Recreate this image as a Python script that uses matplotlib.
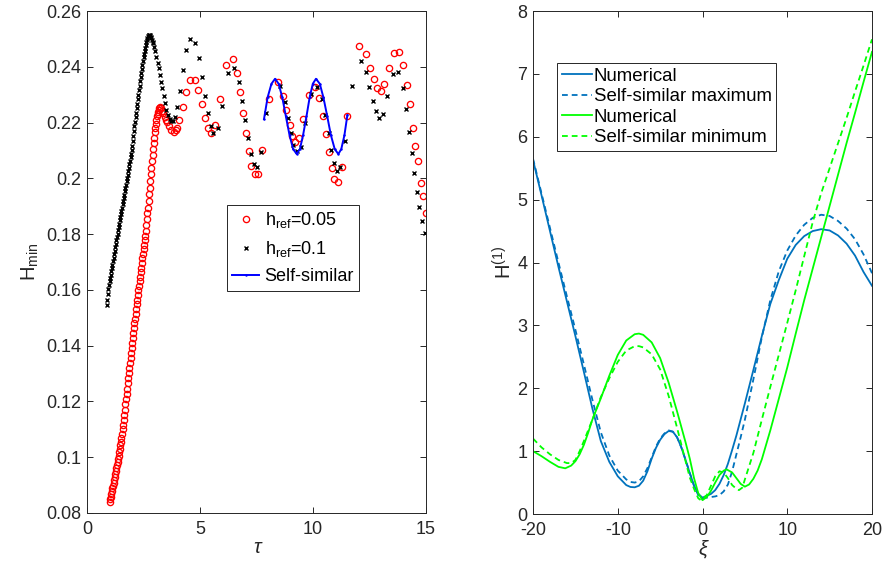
import matplotlib.pyplot as plt

plt.rcParams['font.family'] = ['Liberation Sans', 'DejaVu Sans']
plt.rcParams['mathtext.fontset'] = 'custom'
plt.rcParams['mathtext.rm'] = 'Liberation Sans'
plt.rcParams['mathtext.it'] = 'Liberation Sans:italic'
plt.rcParams['mathtext.sf'] = 'Liberation Sans'

# ---------------- left panel: H_min vs tau ----------------
# h_ref = 0.05 (red circles)
tau_005 = [
    1.000, 1.025, 1.050, 1.075, 1.100, 1.125, 1.150, 1.175, 1.200, 1.225,
    1.250, 1.275, 1.300, 1.325, 1.350, 1.375, 1.400, 1.425, 1.450, 1.475,
    1.500, 1.525, 1.550, 1.575, 1.600, 1.625, 1.650, 1.675, 1.700, 1.725,
    1.750, 1.775, 1.800, 1.825, 1.850, 1.875, 1.900, 1.925, 1.950, 1.975,
    2.000, 2.025, 2.050, 2.075, 2.100, 2.125, 2.150, 2.175, 2.200, 2.225,
    2.250, 2.275, 2.300, 2.325, 2.350, 2.375, 2.400, 2.425, 2.450, 2.475,
    2.500, 2.525, 2.550, 2.575, 2.600, 2.625, 2.650, 2.675, 2.700, 2.725,
    2.750, 2.775, 2.800, 2.825, 2.850, 2.875, 2.900, 2.925, 2.950, 2.975,
    3.000, 3.025, 3.050, 3.075, 3.100, 3.125, 3.150, 3.175, 3.200, 3.225,
    3.27, 3.32, 3.38, 3.45, 3.50, 3.55, 3.63, 3.72, 3.83, 3.92, 4.00, 4.08,
    4.23, 4.38, 4.55, 4.76, 4.92, 5.08, 5.20, 5.35, 5.50, 5.65, 5.87, 6.15,
    6.44, 6.65, 6.79, 6.92, 7.04, 7.15, 7.27, 7.42, 7.57, 7.74, 8.06, 8.45,
    8.66, 8.81, 8.96, 9.07, 9.19, 9.38, 9.57, 9.82, 10.08, 10.28, 10.43,
    10.58, 10.72, 10.84, 10.95, 11.10, 11.28, 11.50, 12.03, 12.35, 12.52,
    12.70, 12.85, 13.00, 13.16, 13.36, 13.60, 13.81, 14.00, 14.15, 14.29,
    14.41, 14.53, 14.63, 14.78, 14.88, 15.00,
]
H_005 = [
    .0840, .0850, .0859, .0869, .0878, .0888, .0898, .0908, .0918, .0929,
    .0939, .0950, .0960, .0971, .0983, .0994, .1005, .1018, .1030, .1043,
    .1055, .1070, .1085, .1100, .1115, .1134, .1153, .1171, .1190, .1209,
    .1228, .1246, .1265, .1283, .1302, .1320, .1338, .1356, .1374, .1392,
    .1410, .1428, .1445, .1463, .1480, .1497, .1514, .1531, .1548, .1565,
    .1582, .1598, .1615, .1631, .1648, .1664, .1680, .1696, .1713, .1729,
    .1745, .1762, .1779, .1795, .1812, .1833, .1854, .1874, .1895, .1919,
    .1943, .1966, .1990, .2014, .2038, .2061, .2085, .2105, .2125, .2145,
    .2165, .2179, .2194, .2208, .2222, .2230, .2238, .2245, .2253, .2256,
    .2252, .2243, .2233, .2219, .2210, .2201, .2188, .2173, .2167, .2172, .2180, .2209,
    .2256, .2311, .2352, .2353, .2316, .2265, .2215, .2179, .2164, .2191, .2284, .2406,
    .2428, .2379, .2310, .2235, .2161, .2099, .2044, .2014, .2017, .2103, .2284, .2344,
    .2296, .2245, .2192, .2152, .2131, .2146, .2212, .2300, .2326, .2287, .2225,
    .2159, .2093, .2038, .1998, .1988, .2039, .2223, .2474, .2445, .2397,
    .2356, .2325, .2314, .2337, .2394, .2450, .2453, .2405, .2335, .2265,
    .2179, .2117, .2063, .1984, .1937, .1877,
]

# h_ref = 0.1 (black crosses)
tau_01 = [
    0.875, 0.900, 0.925, 0.950, 0.975, 1.000, 1.025, 1.050, 1.075, 1.100,
    1.125, 1.150, 1.175, 1.200, 1.225, 1.250, 1.275, 1.300, 1.325, 1.350,
    1.375, 1.400, 1.425, 1.450, 1.475, 1.500, 1.525, 1.550, 1.575, 1.600,
    1.625, 1.650, 1.675, 1.700, 1.725, 1.750, 1.775, 1.800, 1.825, 1.850,
    1.875, 1.900, 1.925, 1.950, 1.975, 2.000, 2.025, 2.050, 2.075, 2.100,
    2.125, 2.150, 2.175, 2.200, 2.225, 2.250, 2.275, 2.300, 2.325, 2.350,
    2.375, 2.400, 2.425, 2.450, 2.475, 2.500, 2.525, 2.550, 2.575, 2.600,
    2.625, 2.650, 2.675, 2.700, 2.725, 2.750, 2.775, 2.800, 2.825, 2.850,
    2.875, 2.900, 2.925, 2.960, 3.00,
    3.04, 3.13, 3.19, 3.22, 3.29, 3.33, 3.39, 3.44, 3.50, 3.57, 3.66, 3.72,
    3.79, 3.89, 4.00, 4.12, 4.25, 4.39, 4.56, 4.77, 4.95, 5.10, 5.23, 5.36,
    5.47, 5.59, 5.80, 5.97, 6.23, 6.49, 6.71, 6.86, 7.00, 7.12, 7.24, 7.39,
    7.54, 7.68, 7.94, 8.55, 8.77, 8.89, 9.01, 9.13, 9.28, 9.46, 9.65, 9.90,
    10.16, 10.39, 10.55, 10.69, 10.78, 10.92, 11.05, 11.21, 11.40, 11.71,
    12.11, 12.35, 12.49, 12.64, 12.77, 12.92, 13.08, 13.27, 13.53, 13.77,
    13.97, 14.10, 14.23, 14.37, 14.47, 14.59, 14.71, 14.82, 14.94,
]
H_01 = [
    .1545, .1565, .1585, .1603, .1618, .1632, .1643, .1655, .1666, .1678,
    .1690, .1703, .1715, .1728, .1740, .1753, .1765, .1778, .1790, .1802,
    .1814, .1826, .1838, .1849, .1861, .1872, .1884, .1895, .1907, .1918,
    .1930, .1942, .1953, .1965, .1977, .1989, .2001, .2013, .2025, .2038,
    .2050, .2062, .2075, .2087, .2100, .2117, .2134, .2151, .2168, .2186,
    .2203, .2220, .2236, .2252, .2268, .2284, .2300, .2316, .2332, .2348,
    .2363, .2378, .2392, .2406, .2420, .2434, .2446, .2458, .2469, .2479,
    .2488, .2496, .2503, .2509, .2513, .2514, .2513, .2511, .2507, .2502,
    .2496, .2490, .2484, .2472, .2455,
    .2436, .2412, .2394, .2370, .2347, .2323, .2295, .2271, .2245, .2227, .2212, .2206,
    .2207, .2221, .2255, .2313, .2389, .2460, .2500, .2486, .2433, .2365, .2296, .2235,
    .2187, .2161, .2179, .2260, .2377, .2394, .2344, .2279, .2211, .2145, .2087, .2050,
    .2042, .2093, .2233, .2330, .2275, .2215, .2161, .2119, .2098, .2113, .2197, .2302,
    .2327, .2284, .2227, .2161, .2102, .2054, .2027, .2042, .2135, .2332,
    .2419, .2380, .2329, .2278, .2241, .2217, .2231, .2294, .2374, .2382,
    .2325, .2248, .2167, .2090, .2018, .1950, .1897, .1848, .1803,
]

# self-similar solution (blue line)
tau_ss = [7.83, 7.99, 8.16, 8.32, 8.48, 8.64, 8.80, 8.96, 9.12, 9.28, 9.42,
          9.56, 9.71, 9.85, 9.99, 10.13, 10.30, 10.46, 10.63, 10.79, 10.96,
          11.12, 11.25, 11.39, 11.52]
H_ss = [.2212, .2290, .2339, .2357, .2339, .2290, .2222, .2155, .2105, .2087,
        .2105, .2155, .2222, .2290, .2339, .2357, .2339, .2290, .2222, .2155,
        .2105, .2087, .2105, .2155, .2227]

# ---------------- right panel: H^(1) vs xi ----------------
xi_num_max = [-20, -19, -18, -17, -16, -15, -14, -13, -12, -11, -10, -9, -8.5,
              -8, -7.5, -7, -6.5, -6, -5.5, -5, -4.5, -4, -3.5, -3, -2.5, -2,
              -1.5, -1, -0.5, 0, 0.5, 1, 1.5, 2, 2.5, 3, 3.5, 4, 5, 6, 7, 8,
              9, 10, 11, 12, 13, 14, 15, 16, 17, 18, 19, 20]
H_num_max = [5.63, 5.07, 4.50, 3.93, 3.38, 2.83, 2.26, 1.68, 1.16, 0.83, 0.60,
             0.46, 0.43, 0.425, 0.45, 0.53, 0.68, 0.88, 1.05, 1.18, 1.27, 1.32,
             1.31, 1.22, 1.06, 0.86, 0.65, 0.45, 0.32, 0.26, 0.29, 0.32, 0.38,
             0.48, 0.62, 0.80, 1.02, 1.25, 1.76, 2.29, 2.83, 3.34, 3.72, 4.06,
             4.28, 4.42, 4.50, 4.53, 4.51, 4.43, 4.30, 4.11, 3.85, 3.63]

xi_ss_max = [-20, -19, -18, -17, -16, -15, -14, -13, -12, -11, -10, -9, -8.5,
             -8, -7.5, -7, -6.5, -6, -5.5, -5, -4.5, -4, -3.5, -3, -2.5, -2,
             -1.5, -1, -0.5, 0, 0.5, 1, 1.5, 2, 2.5, 3, 3.5, 4, 4.5, 5, 6, 7,
             8, 9, 10, 11, 12, 13, 14, 15, 16, 17, 18, 19, 20]
H_ss_max = [5.65, 5.10, 4.55, 4.00, 3.46, 2.93, 2.38, 1.82, 1.30, 0.93, 0.69,
            0.55, 0.51, 0.50, 0.52, 0.60, 0.73, 0.90, 1.07, 1.20, 1.28, 1.33,
            1.31, 1.22, 1.06, 0.86, 0.65, 0.45, 0.30, 0.25, 0.26, 0.27, 0.28,
            0.30, 0.36, 0.47, 0.68, 0.95, 1.22, 1.50, 2.14, 2.81, 3.40, 3.86,
            4.19, 4.43, 4.60, 4.71, 4.76, 4.74, 4.66, 4.54, 4.37, 4.13, 3.83]

xi_num_min = [-20, -19, -18, -17, -16.2, -15.5, -15, -14.5, -14, -13.5, -13,
              -12, -11, -10, -9, -8, -7.5, -7, -6, -5, -4, -3, -2, -1.5, -1,
              -0.5, 0, 0.5, 1, 1.5, 2, 2.5, 2.85, 3.5, 4, 4.5, 5, 5.5, 6, 6.5,
              7, 8, 9, 10, 11, 12, 13, 14, 15, 16, 17, 18, 19, 20]
H_num_min = [1.00, 0.92, 0.83, 0.75, 0.727, 0.77, 0.84, 0.95, 1.10, 1.29, 1.50,
             1.84, 2.20, 2.53, 2.76, 2.86, 2.87, 2.85, 2.73, 2.48, 2.09, 1.63,
             1.14, 0.88, 0.57, 0.33, 0.22, 0.27, 0.37, 0.50, 0.62, 0.69, 0.71,
             0.66, 0.57, 0.48, 0.435, 0.47, 0.56, 0.69, 0.87, 1.33, 1.83, 2.33,
             2.87, 3.40, 3.90, 4.40, 4.90, 5.40, 5.90, 6.38, 6.87, 7.35]

xi_ss_min = [-20, -19, -18, -17, -16, -15.5, -15, -14.5, -14, -13, -12, -11,
             -10, -9, -8, -7.5, -7, -6, -5, -4, -3, -2, -1.5, -1, -0.5, -0.2,
             0.5, 1, 1.5, 2, 2.5, 3, 3.5, 4, 4.3, 4.7, 5, 6, 7, 8, 9, 10, 11,
             12, 13, 14, 15, 16, 17, 18, 19, 20]
H_ss_min = [1.20, 1.06, 0.95, 0.86, 0.81, 0.81, 0.86, 1.00, 1.16, 1.50, 1.86,
            2.16, 2.42, 2.60, 2.67, 2.67, 2.65, 2.54, 2.30, 1.88, 1.37, 0.84,
            0.58, 0.40, 0.25, 0.22, 0.30, 0.45, 0.60, 0.68, 0.66, 0.57, 0.46,
            0.40, 0.38, 0.42, 0.55, 0.97, 1.50, 2.02, 2.53, 3.04, 3.56, 4.10,
            4.64, 5.10, 5.50, 5.90, 6.30, 6.72, 7.13, 7.55]

# ---------------- styling ----------------
AX_COLOR = "#262626"
BLUE = "#0072BD"
GREEN = "#00FF00"
DASH = (0, (3.2, 2.2))


def style_axes(ax):
    for sp in ax.spines.values():
        sp.set_color(AX_COLOR)
        sp.set_linewidth(0.7)
    ax.tick_params(direction="in", top=True, right=True, length=4.5,
                   width=0.7, color=AX_COLOR, labelcolor=AX_COLOR,
                   labelsize=13, pad=4)
    ax.tick_params(axis="x", pad=6)


fig = plt.figure(figsize=(8.85, 5.74), dpi=100)

# left axes
ax1 = fig.add_axes([0.0983, 0.1063, 0.3831, 0.8745])
ax1.plot(tau_005, H_005, ls="none", marker="o", mfc="none", mec="r",
         ms=4.5, mew=0.95, label=r"h$_{\rm ref}$=0.05")
ax1.plot(tau_01, H_01, ls="none", marker="x", color="k",
         ms=3.2, mew=1.0, label=r"h$_{\rm ref}$=0.1")
ax1.plot(tau_ss, H_ss, color="b", lw=1.4, marker=".", ms=1.5,
         label="Self-similar")

ax1.set_xlim(0, 15)
ax1.set_ylim(0.08, 0.26)
ax1.set_xticks([0, 5, 10, 15])
y_ticks = [0.08, 0.10, 0.12, 0.14, 0.16, 0.18, 0.20, 0.22, 0.24, 0.26]
ax1.set_yticks(y_ticks)
ax1.set_yticklabels(["0.08", "0.1", "0.12", "0.14", "0.16", "0.18",
                     "0.2", "0.22", "0.24", "0.26"])
style_axes(ax1)
ax1.set_xlabel("τ", fontsize=14.5, fontstyle="italic", color=AX_COLOR,
               labelpad=0)
ax1.set_ylabel(r"H$_{\rm min}$", fontsize=14.5, color=AX_COLOR, labelpad=4)

leg1 = ax1.legend(loc="upper left", bbox_to_anchor=(0.412, 0.614),
                  borderaxespad=0, fontsize=13, fancybox=False,
                  edgecolor=AX_COLOR, framealpha=1, handlelength=1.5,
                  handletextpad=0.3, borderpad=0.3, labelspacing=0.5,
                  numpoints=1)
leg1.get_frame().set_linewidth(0.7)

# right axes
ax2 = fig.add_axes([0.6023, 0.1045, 0.3830, 0.8763])
ax2.plot(xi_num_max, H_num_max, color=BLUE, lw=1.3, label="Numerical")
ax2.plot(xi_ss_max, H_ss_max, color=BLUE, lw=1.3, ls=DASH,
         label="Self-similar maximum")
ax2.plot(xi_num_min, H_num_min, color=GREEN, lw=1.3, label="Numerical")
ax2.plot(xi_ss_min, H_ss_min, color=GREEN, lw=1.3, ls=DASH,
         label="Self-similar minimum")

ax2.set_xlim(-20, 20)
ax2.set_ylim(0, 8)
ax2.set_xticks([-20, -10, 0, 10, 20])
ax2.set_xticklabels(["-20", "-10", "0", "10", "20"])
ax2.set_yticks(range(0, 9))
style_axes(ax2)
ax2.set_xlabel("ξ", fontsize=14.5, fontstyle="italic", color=AX_COLOR,
               labelpad=0)
ax2.set_ylabel(r"H$^{(1)}$", fontsize=14.5, color=AX_COLOR, labelpad=1)

leg2 = ax2.legend(loc="upper left", bbox_to_anchor=(0.0717, 0.896),
                  borderaxespad=0, fontsize=13.4, fancybox=False,
                  edgecolor=AX_COLOR, framealpha=1, handlelength=1.6,
                  handletextpad=0.1, borderpad=0.25, labelspacing=0.18)
leg2.get_frame().set_linewidth(0.7)

fig.savefig("out.png", dpi=100)
